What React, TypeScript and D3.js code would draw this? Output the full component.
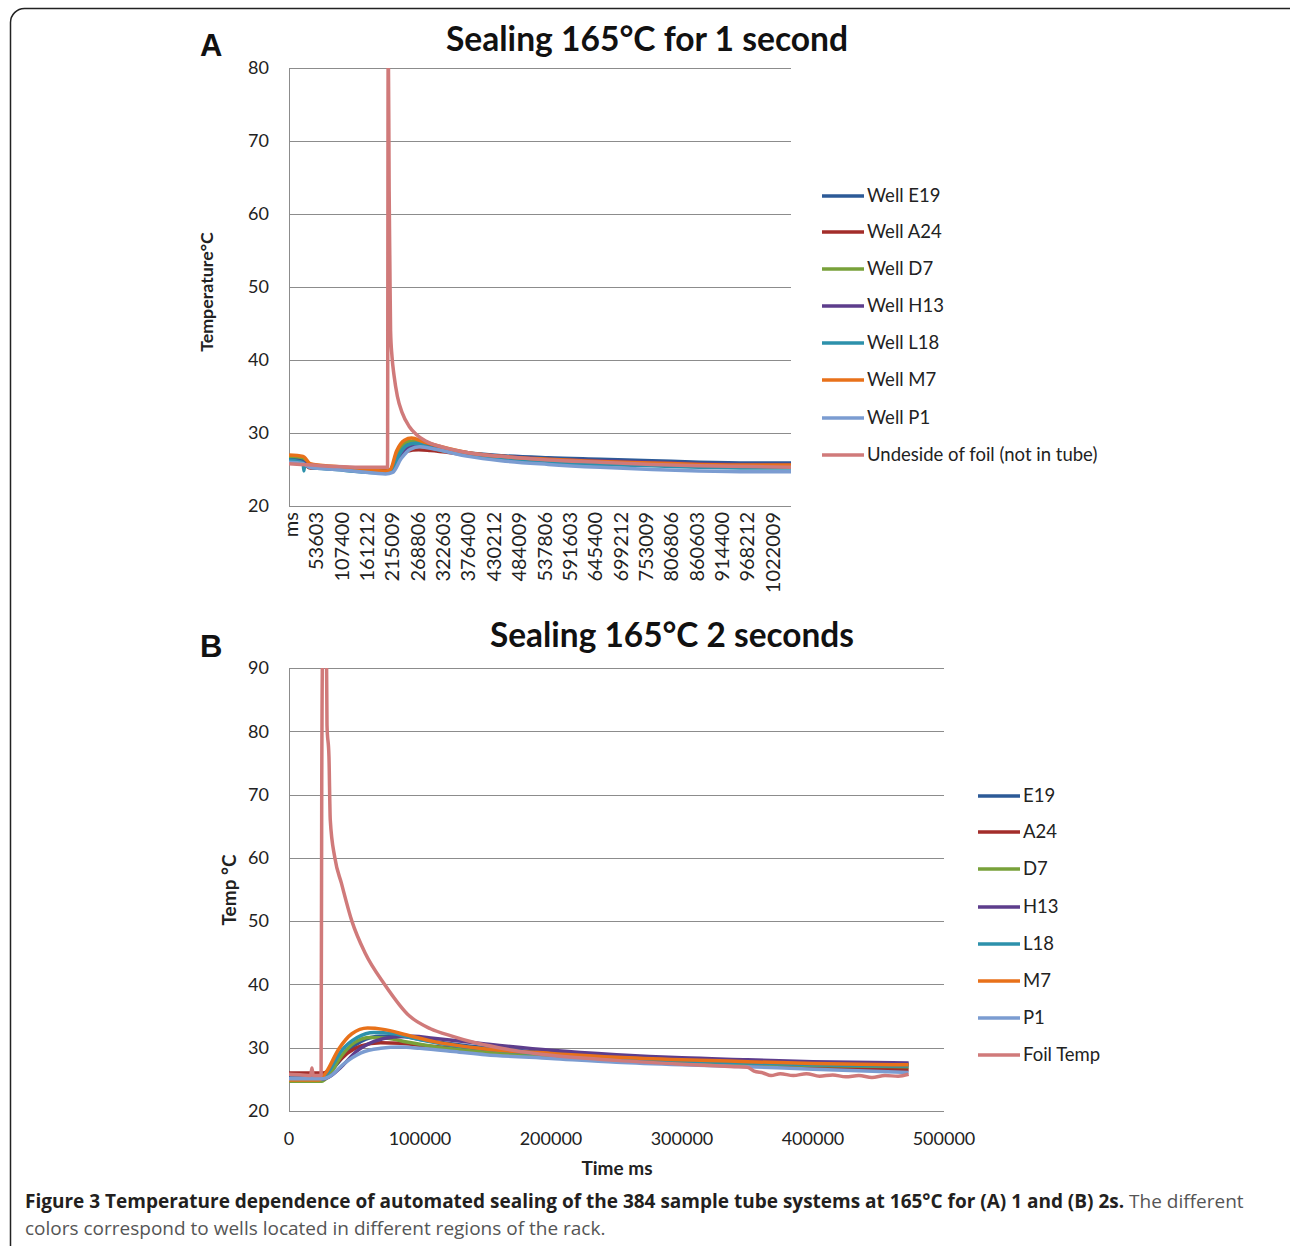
import React, { useEffect, useRef } from "react";
import * as d3 from "d3";

type Pt = [number, number];

// colours of the eight traces (same order in both panels)
const seriesColors = ["#2c5a97", "#a32d2a", "#78a13a", "#5d3d8c", "#2d91ab", "#e8711a", "#7b9cd1", "#d07a7a"];

const namesA = ["Well E19", "Well A24", "Well D7", "Well H13", "Well L18", "Well M7", "Well P1", "Undeside of foil (not in tube)"];
const namesB = ["E19", "A24", "D7", "H13", "L18", "M7", "P1", "Foil Temp"];

const xTickLabelsA = ["ms", "53603", "107400", "161212", "215009", "268806", "322603", "376400", "430212", "484009",
  "537806", "591603", "645400", "699212", "753009", "806806", "860603", "914400", "968212", "1022009"];
const yTicksA = [20, 30, 40, 50, 60, 70, 80];
const yTicksB = [20, 30, 40, 50, 60, 70, 80, 90];
const xTicksB = [0, 100000, 200000, 300000, 400000, 500000];

// panel A : 1 second sealing  [ms, °C]
const e19A: Pt[] = [[0, 26.6], [30000, 26.3], [45000, 25.6], [100000, 25.3], [150000, 25.0], [205000, 24.8], [215000, 25.0], [230000, 27.0], [250000, 28.6], [270000, 28.8], [300000, 28.2], [380000, 27.3], [450000, 26.9], [550000, 26.6], [660000, 26.4], [770000, 26.2], [870000, 26.0], [980000, 25.9], [1065000, 25.9]];
const a24A: Pt[] = [[0, 25.9], [30000, 25.8], [45000, 25.2], [100000, 25.2], [150000, 25.0], [205000, 24.8], [215000, 24.9], [232000, 26.5], [250000, 27.5], [275000, 27.7], [300000, 27.6], [380000, 27.0], [450000, 26.6], [550000, 26.2], [660000, 26.0], [770000, 25.8], [870000, 25.7], [980000, 25.5], [1065000, 25.4]];
const d7A: Pt[] = [[0, 26.8], [30000, 26.6], [45000, 25.7], [100000, 25.3], [150000, 25.0], [205000, 24.7], [215000, 24.9], [230000, 27.2], [250000, 28.8], [265000, 28.9], [300000, 28.0], [380000, 27.1], [450000, 26.6], [550000, 26.2], [660000, 26.0], [770000, 25.8], [870000, 25.6], [980000, 25.5], [1065000, 25.4]];
const h13A: Pt[] = [[0, 26.2], [30000, 26.0], [45000, 25.4], [100000, 25.1], [150000, 24.9], [205000, 24.6], [218000, 24.8], [235000, 26.8], [255000, 28.1], [275000, 28.4], [300000, 28.1], [380000, 27.2], [450000, 26.8], [550000, 26.4], [660000, 26.2], [770000, 26.0], [870000, 25.8], [980000, 25.7], [1065000, 25.7]];
const l18A: Pt[] = [[0, 26.3], [30000, 25.9], [31500, 24.8], [33500, 25.7], [45000, 25.3], [100000, 25.0], [150000, 24.7], [205000, 24.5], [218000, 24.7], [232000, 26.8], [250000, 28.3], [268000, 28.6], [300000, 28.0], [380000, 27.0], [450000, 26.5], [550000, 26.0], [660000, 25.7], [770000, 25.5], [870000, 25.3], [980000, 25.2], [1065000, 25.2]];
const m7A: Pt[] = [[0, 27.0], [30000, 26.8], [45000, 25.8], [100000, 25.4], [150000, 25.1], [205000, 24.8], [215000, 25.0], [228000, 27.5], [245000, 29.0], [260000, 29.3], [285000, 28.8], [380000, 27.3], [450000, 26.8], [550000, 26.4], [660000, 26.1], [770000, 25.9], [870000, 25.7], [980000, 25.6], [1065000, 25.6]];
const p1A: Pt[] = [[0, 26.0], [30000, 25.8], [45000, 25.3], [100000, 25.0], [150000, 24.7], [205000, 24.4], [220000, 24.6], [238000, 26.5], [258000, 27.8], [278000, 28.1], [300000, 27.9], [380000, 26.8], [450000, 26.2], [550000, 25.7], [660000, 25.3], [770000, 25.0], [870000, 24.8], [980000, 24.7], [1065000, 24.7]];
const foilA: Pt[] = [[0, 25.8], [50000, 25.6], [100000, 25.4], [150000, 25.3], [209000, 25.3], [210500, 85], [212500, 63], [214000, 53], [215500, 44], [218500, 40.5], [223000, 37.8], [230000, 35.0], [240000, 32.8], [255000, 30.9], [270000, 29.8], [290000, 28.9], [330000, 28.0], [380000, 27.3], [450000, 26.8], [550000, 26.3], [660000, 26.0], [770000, 25.7], [870000, 25.5], [980000, 25.4], [1065000, 25.3]];

// panel B : 2 seconds sealing
const e19B: Pt[] = [[0, 25.2], [20000, 25.2], [26000, 25.3], [35000, 27.0], [45000, 29.5], [55000, 31.0], [70000, 31.8], [85000, 31.8], [100000, 31.3], [150000, 30.0], [200000, 29.2], [250000, 28.6], [300000, 28.2], [350000, 27.9], [400000, 27.6], [473000, 27.4]];
const a24B: Pt[] = [[0, 26.0], [20000, 26.0], [26000, 26.0], [35000, 27.3], [45000, 29.2], [55000, 30.3], [70000, 30.8], [85000, 30.7], [100000, 30.4], [150000, 29.5], [200000, 28.7], [250000, 28.0], [300000, 27.5], [350000, 27.2], [400000, 26.9], [473000, 26.5]];
const d7B: Pt[] = [[0, 24.7], [25000, 24.7], [30000, 25.5], [40000, 28.7], [50000, 30.8], [62000, 31.6], [75000, 31.5], [90000, 30.9], [110000, 30.2], [150000, 29.3], [200000, 28.7], [250000, 28.2], [300000, 27.8], [350000, 27.5], [400000, 27.2], [473000, 27.0]];
const h13B: Pt[] = [[0, 25.0], [25000, 25.0], [30000, 25.3], [40000, 27.0], [52000, 29.5], [65000, 31.0], [80000, 31.7], [95000, 31.8], [110000, 31.5], [150000, 30.6], [200000, 29.6], [250000, 28.9], [300000, 28.4], [350000, 28.1], [400000, 27.8], [473000, 27.6]];
const l18B: Pt[] = [[0, 25.0], [24000, 25.0], [30000, 26.2], [40000, 29.5], [52000, 31.6], [65000, 32.4], [80000, 32.2], [95000, 31.5], [120000, 30.5], [150000, 29.8], [200000, 28.9], [250000, 28.3], [300000, 27.9], [350000, 27.6], [400000, 27.3], [473000, 27.1]];
const m7B: Pt[] = [[0, 24.9], [23000, 24.9], [28000, 26.0], [38000, 29.8], [48000, 32.2], [60000, 33.1], [72000, 32.9], [90000, 32.0], [110000, 31.0], [150000, 29.8], [200000, 29.1], [250000, 28.5], [300000, 28.1], [350000, 27.8], [400000, 27.5], [473000, 27.3]];
const p1B: Pt[] = [[0, 25.1], [26000, 25.1], [32000, 25.6], [42000, 27.5], [55000, 29.2], [70000, 29.9], [85000, 30.1], [100000, 29.9], [130000, 29.3], [150000, 28.9], [200000, 28.3], [250000, 27.7], [300000, 27.3], [350000, 27.0], [400000, 26.6], [473000, 26.1]];
const foilB: Pt[] = [[0, 25.8], [10000, 25.7], [16500, 25.6], [17500, 26.8], [18500, 25.6], [24500, 25.6], [25000, 72], [25800, 95], [28500, 95], [29000, 81], [30500, 76], [31500, 66], [35000, 60], [40000, 56], [48000, 50], [58000, 45], [73000, 40], [92000, 35], [108000, 33], [125000, 31.8], [140000, 30.9], [160000, 30.0], [200000, 28.8], [250000, 28.0], [300000, 27.4], [340000, 27.0], [350000, 26.9], [355000, 26.3], [362000, 26.0], [368000, 25.6], [375000, 25.9], [385000, 25.6], [395000, 25.9], [405000, 25.5], [415000, 25.7], [425000, 25.4], [435000, 25.6], [445000, 25.3], [455000, 25.6], [465000, 25.5], [473000, 25.8]];

const seriesA = [e19A, a24A, d7A, h13A, l18A, m7A, p1A, foilA];
const seriesB = [e19B, a24B, d7B, h13B, l18B, m7B, p1B, foilB];

const FONT = "Lato, 'Open Sans', sans-serif";
const GRID = "#8c8c8c";

function App() {
  const ref = useRef<SVGSVGElement>(null);

  useEffect(() => {
    const svg = d3.select(ref.current);
    svg.selectAll("*").remove();

    // figure frame
    svg.append("rect")
      .attr("x", 10.5).attr("y", 8.5)
      .attr("width", 1320).attr("height", 1280)
      .attr("rx", 14)
      .attr("fill", "none").attr("stroke", "#222").attr("stroke-width", 1.5);

    const drawPanel = (opts: any) => {
      const { id, x, y, yTicks, series, names, legendX, legendY } = opts;
      const [x0, x1] = x.range();
      const [yb, yt] = y.range();
      const g = svg.append("g");

      g.append("clipPath").attr("id", id)
        .append("rect").attr("x", x0).attr("y", yt).attr("width", x1 - x0).attr("height", yb - yt);

      // horizontal grid
      g.append("g").selectAll("line").data(yTicks.slice(1)).join("line")
        .attr("x1", x0).attr("x2", x1)
        .attr("y1", (d: number) => Math.round(y(d)) + 0.5).attr("y2", (d: number) => Math.round(y(d)) + 0.5)
        .attr("stroke", GRID);
      g.append("line").attr("x1", x0 + 0.5).attr("x2", x0 + 0.5).attr("y1", yt).attr("y2", yb).attr("stroke", GRID);
      g.append("line").attr("x1", x0).attr("x2", x1).attr("y1", yb + 0.5).attr("y2", yb + 0.5).attr("stroke", GRID);

      g.append("g").selectAll("text").data(yTicks).join("text")
        .attr("x", x0 - 20).attr("y", (d: number) => y(d)).attr("dy", "0.35em")
        .attr("text-anchor", "end").attr("font-family", FONT).attr("font-size", 18).attr("fill", "#222")
        .text((d: number) => d);

      const line = d3.line<Pt>().x(d => x(d[0])).y(d => y(d[1])).curve(d3.curveMonotoneX);
      g.append("g").attr("clip-path", `url(#${id})`)
        .selectAll("path").data(series).join("path")
        .attr("d", (d: any) => line(d))
        .attr("fill", "none")
        .attr("stroke", (_: any, i: number) => seriesColors[i])
        .attr("stroke-width", 3.5)
        .attr("stroke-linejoin", "round");

      const leg = g.append("g").selectAll("g").data(names).join("g")
        .attr("transform", (_: any, i: number) => `translate(${legendX},${legendY[i]})`);
      leg.append("line").attr("x1", 0).attr("x2", 42)
        .attr("stroke", (_: any, i: number) => seriesColors[i]).attr("stroke-width", 3.5);
      leg.append("text").attr("x", 45).attr("dy", "0.35em")
        .attr("font-family", FONT).attr("font-size", 18.5).attr("fill", "#222")
        .text((d: string) => d);
      return g;
    };

    // ---- panel A
    const xA = d3.scaleLinear().domain([0, 1065000]).range([289, 791]);
    const yA = d3.scaleLinear().domain([20, 80]).range([506, 68]);
    const gA = drawPanel({
      id: "clipA", x: xA, y: yA, yTicks: yTicksA, series: seriesA, names: namesA,
      legendX: 822, legendY: [196, 232, 269, 306, 343, 380, 418, 455],
    });
    gA.append("g").selectAll("text").data(xTickLabelsA).join("text")
      .attr("transform", (d: string) => `translate(${xA(d === "ms" ? 0 : +d) + 2},512) rotate(-90)`)
      .attr("dy", "0.35em").attr("text-anchor", "end")
      .attr("font-family", FONT).attr("font-size", 20).attr("fill", "#222")
      .text((d: string) => d);
    gA.append("text").attr("transform", "translate(207,292) rotate(-90)").attr("dy", "0.35em")
      .attr("text-anchor", "middle").attr("font-family", FONT).attr("font-weight", 700)
      .attr("font-size", 17.8).attr("fill", "#222").text("Temperature°C");
    gA.append("text").attr("x", 647).attr("y", 51).attr("text-anchor", "middle")
      .attr("font-family", FONT).attr("font-weight", 700).attr("font-size", 33.6).attr("fill", "#111")
      .text("Sealing 165°C for 1 second");
    gA.append("text").attr("x", 200).attr("y", 56)
      .attr("font-family", "'Liberation Sans', Arial, sans-serif").attr("font-weight", 700)
      .attr("font-size", 31).attr("fill", "#111").text("A");

    // ---- panel B
    const xB = d3.scaleLinear().domain([0, 500000]).range([289, 944]);
    const yB = d3.scaleLinear().domain([20, 90]).range([1111, 668]);
    const gB = drawPanel({
      id: "clipB", x: xB, y: yB, yTicks: yTicksB, series: seriesB, names: namesB,
      legendX: 978, legendY: [796, 832, 869, 907, 944, 981, 1018, 1055],
    });
    gB.append("g").selectAll("text").data(xTicksB).join("text")
      .attr("x", (d: number) => xB(d)).attr("y", 1145).attr("text-anchor", "middle")
      .attr("font-family", FONT).attr("font-size", 18).attr("fill", "#222")
      .text((d: number) => d);
    gB.append("text").attr("x", 617).attr("y", 1175).attr("text-anchor", "middle")
      .attr("font-family", FONT).attr("font-weight", 700).attr("font-size", 19).attr("fill", "#222")
      .text("Time ms");
    gB.append("text").attr("transform", "translate(229,890) rotate(-90)").attr("dy", "0.35em")
      .attr("text-anchor", "middle").attr("font-family", FONT).attr("font-weight", 700)
      .attr("font-size", 19).attr("fill", "#222").text("Temp °C");
    gB.append("text").attr("x", 672).attr("y", 647).attr("text-anchor", "middle")
      .attr("font-family", FONT).attr("font-weight", 700).attr("font-size", 33.4).attr("fill", "#111")
      .text("Sealing 165°C 2 seconds");
    gB.append("text").attr("x", 200).attr("y", 657)
      .attr("font-family", "'Liberation Sans', Arial, sans-serif").attr("font-weight", 700)
      .attr("font-size", 31).attr("fill", "#111").text("B");

    // caption
    const cap = svg.append("text").attr("x", 25).attr("y", 1208)
      .attr("font-family", "'Open Sans', sans-serif").attr("font-size", 19);
    cap.append("tspan").attr("font-weight", 700).attr("fill", "#231f20")
      .text("Figure 3 Temperature dependence of automated sealing of the 384 sample tube systems at 165°C for (A) 1 and (B) 2s.");
    cap.append("tspan").attr("fill", "#555").text(" The different");
    svg.append("text").attr("x", 25).attr("y", 1235)
      .attr("font-family", "'Open Sans', sans-serif").attr("font-size", 19).attr("fill", "#555")
      .text("colors correspond to wells located in different regions of the rack.");
  });

  return (
    <svg ref={ref} width={1290} height={1246}
      style={{ position: "absolute", left: 0, top: 0, background: "#fff" }} />
  );
}

export default App;
